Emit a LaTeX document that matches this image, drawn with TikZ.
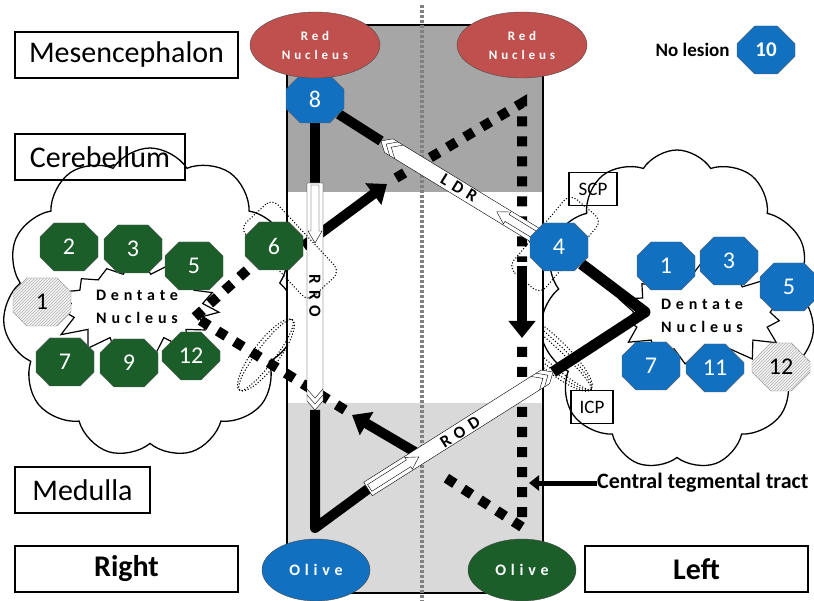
\documentclass[tikz,border=0pt]{standalone}
\usepackage{fontspec}
\setmainfont{Carlito}
\newfontfamily\spaced[LetterSpace=30]{Carlito}
\newfontfamily\bandfont[LetterSpace=35]{Carlito}
\usetikzlibrary{shapes.misc,shapes.symbols,shapes.geometric,arrows.meta,patterns,positioning}

\definecolor{rnred}{RGB}{192,80,77}
\definecolor{lesblue}{RGB}{17,112,192}
\definecolor{lesgreen}{RGB}{27,94,42}
\definecolor{topgray}{RGB}{166,166,166}
\definecolor{botgray}{RGB}{217,217,217}

\pgfdeclarelayer{back}
\pgfdeclarelayer{tracts}
\pgfsetlayers{back,tracts,main}

\tikzset{
  pics/tract/.style={code={
    % band with pointed head
    \draw[thin, fill=white] (0,-8) -- (#1-9,-8) -- (#1,0) -- (#1-9,8) -- (0,8) -- cycle;
    % chevrons at the head
    \foreach \k in {1,2}
      \draw[thin] (#1-9-6*\k,-8) -- (#1-6*\k,0) -- (#1-9-6*\k,8);
    % hollow arrow at the tail
    \draw[thin, fill=white] (2,-4) -- (48,-4) -- (48,-7) -- (60,0) -- (48,7) -- (48,4) -- (2,4) -- cycle;
  }}
}

\begin{document}
\begin{tikzpicture}[x=1pt, y=-1pt, >=Latex,
    every node/.style={inner sep=0pt},
    labelbox/.style={draw, line width=2.5pt, minimum height=46pt, font=\fontsize{30}{30}\selectfont},
    sidebox/.style={labelbox, minimum width=223pt, font=\fontsize{30}{30}\selectfont\bfseries},
    oct/.style={chamfered rectangle, chamfered rectangle xsep=12pt, chamfered rectangle ysep=11pt,
      minimum width=58pt, minimum height=48pt,
      draw=black!65, thin, text=white, font=\fontsize{24}{24}\selectfont},
    octR/.style={oct, fill=lesgreen},
    octL/.style={oct, fill=lesblue},
    octX/.style={oct, fill=gray!8, postaction={pattern=north east lines, pattern color=gray!60}, text=black, draw=gray},
    nucleus/.style={ellipse, draw=black!70, thin, text=white, align=center},
    tagbox/.style={draw, line width=1.5pt, minimum height=33pt, font=\fontsize{19}{19}\selectfont},
    lobe/.style={cloud, cloud puffs=11, cloud puff arc=115, draw, fill=white, line width=1.3pt},
    burst/.style={starburst, starburst points=15, starburst point height=24pt, draw, fill=white, line width=1.2pt,
      align=center, font=\spaced\bfseries\fontsize{16}{23}\selectfont},
    sheath/.style={line width=1.5pt, dash pattern=on 0pt off 3pt, line cap=round},
    tractline/.style={line width=10pt, line join=round},
    tractdots/.style={line width=10pt, dash pattern=on 10pt off 10pt},
    tractarrow/.style={line width=10pt, -{Triangle[length=17pt,width=26pt]}},
    bandtext/.style={font=\bandfont\bfseries\fontsize{17}{17}\selectfont}
  ]

  \useasboundingbox (0,0) rectangle (814,601);

  \begin{pgfonlayer}{back}
    % cerebellum
    \node[lobe, minimum width=295pt, minimum height=310pt] (cbR) at (150,303) {};
    \node[lobe, minimum width=275pt, minimum height=320pt] (cbL) at (677,310) {};

    % dentate nuclei
    \node[burst, random starburst=7, minimum width=180pt, minimum height=115pt] (dnR) at (137,307) {Dentate\\Nucleus};
    \node[burst, random starburst=11, minimum width=185pt, minimum height=120pt] (dnL) at (702,316) {Dentate\\Nucleus};

    % ICP on the left side, under the brainstem
    \foreach \r in {8,12,16}
      \draw[sheath, rotate around={-42:(545,348)}] (545,348) ellipse [x radius=62, y radius=\r];

    % brainstem
    \fill[white] (287,25) rectangle (543,593);
    \fill[topgray] (287,25) rectangle (543,192);
    \fill[botgray] (287,403) rectangle (543,593);
    \draw[line width=2.5pt] (287,25) rectangle (543,593);
    \draw[gray, line width=3.5pt, dash pattern=on 3pt off 2pt] (422,5) -- (422,601);
  \end{pgfonlayer}

  % lesions
  \node[octL] (R8) at (315,99) {8};
  \node[octR] (R6) at (274,246) {6};
  \node[octL] (L4) at (559,247) {4};
  \node[octR] (R2) at (69,247) {2};
  \node[octR] (R3) at (133,249) {3};
  \node[octR] (R5) at (194,266) {5};
  \node[octX] (R1) at (42,302) {1};
  \node[octR] (R7) at (65,362) {7};
  \node[octR] (R9) at (129,363) {9};
  \node[octR] (R12) at (191,356) {12};
  \node[octL] (L1) at (666,266) {1};
  \node[octL] (L3) at (729,261) {3};
  \node[octL] (L5) at (789,287) {5};
  \node[octL] (L7) at (651,366) {7};
  \node[octL] (L11) at (715,368) {11};
  \node[octX] (L12) at (781,367) {12};

  % bends
  \coordinate (rrotail) at (315,183);
  \coordinate (rrohead) at (315,410);
  \coordinate (ldrtail) at (548,243);
  \coordinate (ldrhead) at (381,141);
  \coordinate (rodtail) at (368,489);
  \coordinate (rodhead) at (553,372);
  \coordinate (olivebend) at (315,528);
  \coordinate (dentbend) at (645,312);
  \coordinate (dnRtip) at (195,317);
  \coordinate (rnLfoot) at (522,103);
  \coordinate (olLfoot) at (522,527);

  \begin{pgfonlayer}{tracts}
    % Guillain-Mollaret triangle, right side
    \draw[tractline] (R8) -- (rrotail);
    \draw[tractline] (R8) -- (ldrhead);
    \draw[tractline] (rrohead) -- (olivebend) -- (rodtail);
    \draw[tractline, line width=11pt] (rodhead) -- (dentbend) -- (L4);

    % Guillain-Mollaret triangle, left side
    \draw[tractdots] (dnRtip) -- (R6);
    \draw[tractarrow] (R6.east) -- (387,184);
    \draw[tractdots] (396,178) -- (rnLfoot) -- (522,262);
    \draw[tractarrow] (522,266) -- (522,338);
    \draw[tractdots] (522,347) -- (olLfoot) -- (440,474);
    \draw[tractarrow] (415,452) -- (352,415);
    \draw[tractdots] (345,410) -- (dnRtip);

    % tracts
    \pic[rotate=-90] at (rrotail) {tract=227};
    \pic[rotate=148.58] at (ldrtail) {tract=195.7};
    \pic[rotate=32.31] at (rodtail) {tract=218.9};
    \node[bandtext, rotate=-90] (rro) at (315,296) {RRO};
    \node[bandtext, rotate=-31.4] (ldr) at (459,188) {LDR};
    \node[bandtext, rotate=32.3] (rod) at (460,432) {ROD};

    % SCP and ICP on the right side
    \draw[sheath, rounded corners=9pt, rotate around={-47:(290,250)}] (240,228) rectangle (340,272);
    \draw[sheath, rounded corners=9pt, rotate around={50:(555,244)}] (507,223) rectangle (603,265);
    \foreach \r in {9,13}
      \draw[sheath, rotate around={53:(266,355)}] (266,355) ellipse [x radius=44, y radius=\r];
  \end{pgfonlayer}

  % nuclei
  \node[nucleus, fill=rnred, minimum width=130pt, minimum height=66pt,
    font=\spaced\bfseries\fontsize{13}{19}\selectfont] (rnR) at (315,45) {Red\\Nucleus};
  \node[nucleus, fill=rnred, minimum width=130pt, minimum height=66pt,
    font=\spaced\bfseries\fontsize{13}{19}\selectfont] (rnL) at (522,45) {Red\\Nucleus};
  \node[nucleus, fill=lesblue, minimum width=108pt, minimum height=62pt,
    font=\spaced\bfseries\fontsize{16}{16}\selectfont] (olR) at (316,570) {Olive};
  \node[nucleus, fill=lesgreen, minimum width=108pt, minimum height=62pt,
    font=\spaced\bfseries\fontsize{16}{16}\selectfont] (olL) at (522,570) {Olive};

  % legend
  \node[octL, font=\fontsize{21}{21}\selectfont\bfseries] (L10) at (766,50) {10};
  \node[left=7pt of L10, font=\fontsize{19}{19}\selectfont\bfseries] (nolesion) {No lesion};

  % peduncles
  \node[tagbox, minimum width=48pt] (scp) at (593,189) {SCP};
  \node[tagbox, minimum width=42pt] (icp) at (592,407) {ICP};

  % central tegmental tract
  \node[anchor=west, font=\fontsize{22}{22}\selectfont\bfseries] (ctt) at (597,483) {Central tegmental tract};
  \draw[line width=5pt, -{Triangle[length=10pt,width=15pt]}] (ctt.west) -- (529,483);

  % levels
  \node[labelbox, minimum width=223pt] (mes) at (126.5,55) {Mesencephalon};
  \node[labelbox, minimum width=170pt] (cer) at (100,157) {Cerebellum};
  \node[labelbox, minimum width=135pt] (med) at (82.5,490) {Medulla};
  \node[sidebox] (right) at (126.5,569) {Right};
  \node[sidebox] (left) at (696.5,569) {Left};

\end{tikzpicture}
\end{document}
